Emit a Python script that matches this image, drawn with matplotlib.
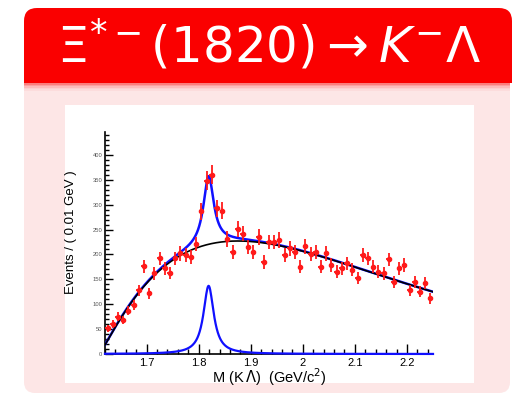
import numpy as np
import matplotlib
matplotlib.use("Agg")
import matplotlib.pyplot as plt
from matplotlib.patches import FancyBboxPatch, Rectangle
from matplotlib.ticker import MultipleLocator

plt.rcParams["mathtext.fontset"] = "dejavusans"

# Histogram binning: M(K Lambda) in GeV/c^2
bin_lo, bin_hi, bin_width = 1.62, 2.25, 0.01
mass = np.round(np.arange(bin_lo + bin_width / 2, bin_hi, bin_width), 3)

# Events per 0.01 GeV bin
counts = np.array([
    52, 60, 75, 68, 87, 98, 128, 176, 122, 162,
    192, 172, 163, 192, 202, 199, 195, 221, 287, 348,
    360, 293, 288, 231, 205, 251, 242, 215, 205, 235,
    185, 225, 225, 229, 199, 212, 205, 175, 216, 201,
    205, 175, 202, 179, 165, 172, 182, 169, 152, 199,
    192, 175, 165, 162, 190, 145, 172, 179, 128, 145,
    125, 142, 112,
])

# Fit model: Breit-Wigner signal on threshold background
sig_mass = 1.819
sig_width = 0.024
sig_peak = 137.0
bkg_threshold = 1.609
bkg_log_norm = 8.048
bkg_power = 1.129
bkg_slope = 4.24


def signal(m):
    hw = sig_width / 2
    return sig_peak * hw**2 / ((m - sig_mass) ** 2 + hw**2)


def background(m):
    q = np.clip(m - bkg_threshold, 1e-9, None)
    return np.exp(bkg_log_norm + bkg_power * np.log(q) - bkg_slope * q)


W, H = 512, 398
fig = plt.figure(figsize=(W / 100, H / 100), dpi=100)
fig.patch.set_facecolor("white")

# Slide-style frame
bg = fig.add_axes([0, 0, 1, 1])
bg.set_xlim(0, W)
bg.set_ylim(H, 0)
bg.axis("off")

red = "#fa0000"
pink = "#fde6e6"
bg.add_patch(FancyBboxPatch((24, 60), 486, 333,
                            boxstyle="round,pad=0,rounding_size=11",
                            fc=pink, ec="none"))
bg.add_patch(FancyBboxPatch((24, 8), 488, 75,
                            boxstyle="round,pad=0,rounding_size=13",
                            fc=red, ec="none"))
bg.add_patch(Rectangle((24, 50), 488, 33, fc=red, ec="none"))
for i, a in enumerate([0.45, 0.3, 0.18, 0.09, 0.04]):
    bg.add_patch(Rectangle((24, 83 + i * 1.5), 486, 1.5, fc=red, ec="none", alpha=a))
bg.add_patch(Rectangle((65, 105), 409, 278, fc="white", ec="none"))

bg.text(269, 45, r"$\Xi^{*-}(1820) \rightarrow K^{-}\Lambda$", color="white",
        fontsize=36, ha="center", va="center")

# Mass spectrum
ax = fig.add_axes([105 / W, 1 - 354 / H, 328 / W, 222 / H])
ax.set_facecolor("none")

mm = np.linspace(bin_lo, bin_hi, 600)
ax.plot(mm, signal(mm), color="#1010ff", lw=1.6, clip_on=False, zorder=3)
ax.plot(mm, signal(mm) + background(mm), color="#1010ff", lw=1.8, zorder=3)
ax.plot(mm, background(mm), color="black", lw=1.2, zorder=4)

ax.errorbar(mass, counts, yerr=np.sqrt(counts), xerr=bin_width / 2,
            fmt="o", ms=3, color="#ff1a1a", ecolor="#ff1a1a", elinewidth=1.3,
            capsize=0, zorder=5)

ax.set_xlim(bin_lo, bin_hi)
ax.set_ylim(0, 446)
for s in ["top", "right"]:
    ax.spines[s].set_visible(False)
for s in ["left", "bottom"]:
    ax.spines[s].set_linewidth(1.2)

ax.xaxis.set_major_locator(MultipleLocator(0.1))
ax.xaxis.set_minor_locator(MultipleLocator(0.02))
ax.yaxis.set_major_locator(MultipleLocator(50))
ax.yaxis.set_minor_locator(MultipleLocator(10))
ax.tick_params(axis="both", which="both", direction="in", width=1.0)
ax.tick_params(axis="x", which="major", length=7, labelsize=8, pad=3)
ax.tick_params(axis="x", which="minor", length=3.5)
ax.tick_params(axis="y", which="major", length=6, labelsize=4.2,
               labelcolor="#555555", pad=2)
ax.tick_params(axis="y", which="minor", length=3)
ax.set_xticks([1.7, 1.8, 1.9, 2.0, 2.1, 2.2])
ax.set_xticklabels(["1.7", "1.8", "1.9", "2", "2.1", "2.2"],
                   family="Liberation Sans")
for lab in ax.get_yticklabels():
    lab.set_family("Liberation Sans")

ax.set_xlabel(r"M (K$\,\Lambda$)  (GeV/c$^{2}$)", fontsize=10.5,
              family="Liberation Sans", labelpad=-1)
ax.set_ylabel("Events / ( 0.01 GeV )", fontsize=9.5, family="Liberation Sans",
              labelpad=3)
ax.yaxis.set_label_coords(-0.085, 0.55)

fig.savefig("out.png", dpi=100)
